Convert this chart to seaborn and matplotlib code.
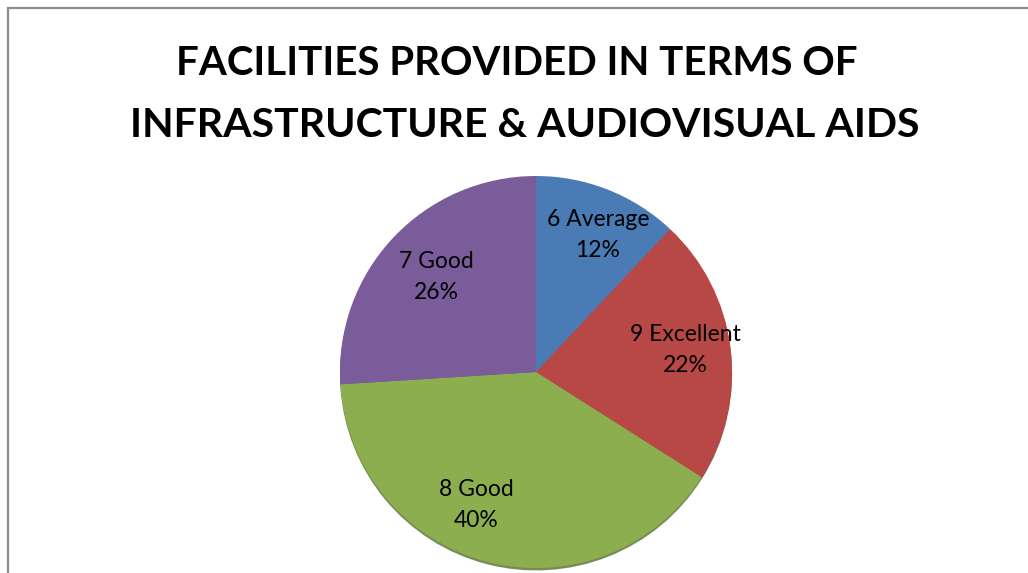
import matplotlib
matplotlib.use("Agg")
import matplotlib.pyplot as plt
import seaborn as sns
import numpy as np
from matplotlib.patches import Rectangle

categories = ["6 Average", "9 Excellent", "8 Good", "7 Good"]
percents = [12, 22, 40, 26]
colors = ["#4B7BB5", "#B84845", "#8CAE4E", "#7A5C9A"]
shadow_colors = ["#2E4F78", "#7A2C2A", "#55702A", "#4E3A66"]
title_lines = ["FACILITIES PROVIDED IN TERMS OF", "INFRASTRUCTURE & AUDIOVISUAL AIDS"]

sns.set_theme(style="white")
plt.rcParams['font.family'] = ['Lato', 'DejaVu Sans']

W, H = 1028, 573
fig = plt.figure(figsize=(W / 100, H / 100), dpi=100)
fig.patch.set_facecolor("white")

# outer border (runs off right and bottom edges)
fig.patches.append(Rectangle((8 / W, -0.1), 1.2, (H - 8) / H + 0.1,
                             transform=fig.transFigure, fill=False,
                             edgecolor="#8c8c8c", linewidth=1.6))

cx, cy, r = 536, 573 - 374, 198
ax = fig.add_axes([(cx - r) / W, (cy - r) / H, 2 * r / W, 2 * r / H])
# subtle bevel/shadow at the lower rim
ax.pie(percents, colors=shadow_colors, startangle=90, counterclock=False,
       center=(0, -0.012), wedgeprops=dict(linewidth=0, alpha=0.8))
labels = [f"{c}\n{p}%" for c, p in zip(categories, percents)]
wedges, texts = ax.pie(percents, colors=colors, startangle=90, counterclock=False,
                       labels=labels, labeldistance=0.75,
                       wedgeprops=dict(linewidth=0),
                       textprops=dict(fontsize=16.5, color="black", ha="center",
                                      va="center", linespacing=1.6))
ax.set_xlim(-1, 1)
ax.set_ylim(-1.02, 1)
ax.set_aspect("equal")
ax.axis("off")

# nudge labels toward Excel's best-fit placement
for t, dx, dy in zip(texts, [0.04, 0.02, -0.12, 0.04], [0.0, 0.02, 0.05, -0.03]):
    x, y = t.get_position()
    t.set_position((x + dx, y + dy))

fig.text(517 / W, 1 - 75 / H, title_lines[0], ha="center", va="baseline",
         fontsize=29, fontweight="bold", color="black")
fig.text(525 / W, 1 - 137 / H, title_lines[1], ha="center", va="baseline",
         fontsize=29.5, fontweight="bold", color="black")

fig.savefig("out.png", dpi=100, facecolor="white")
